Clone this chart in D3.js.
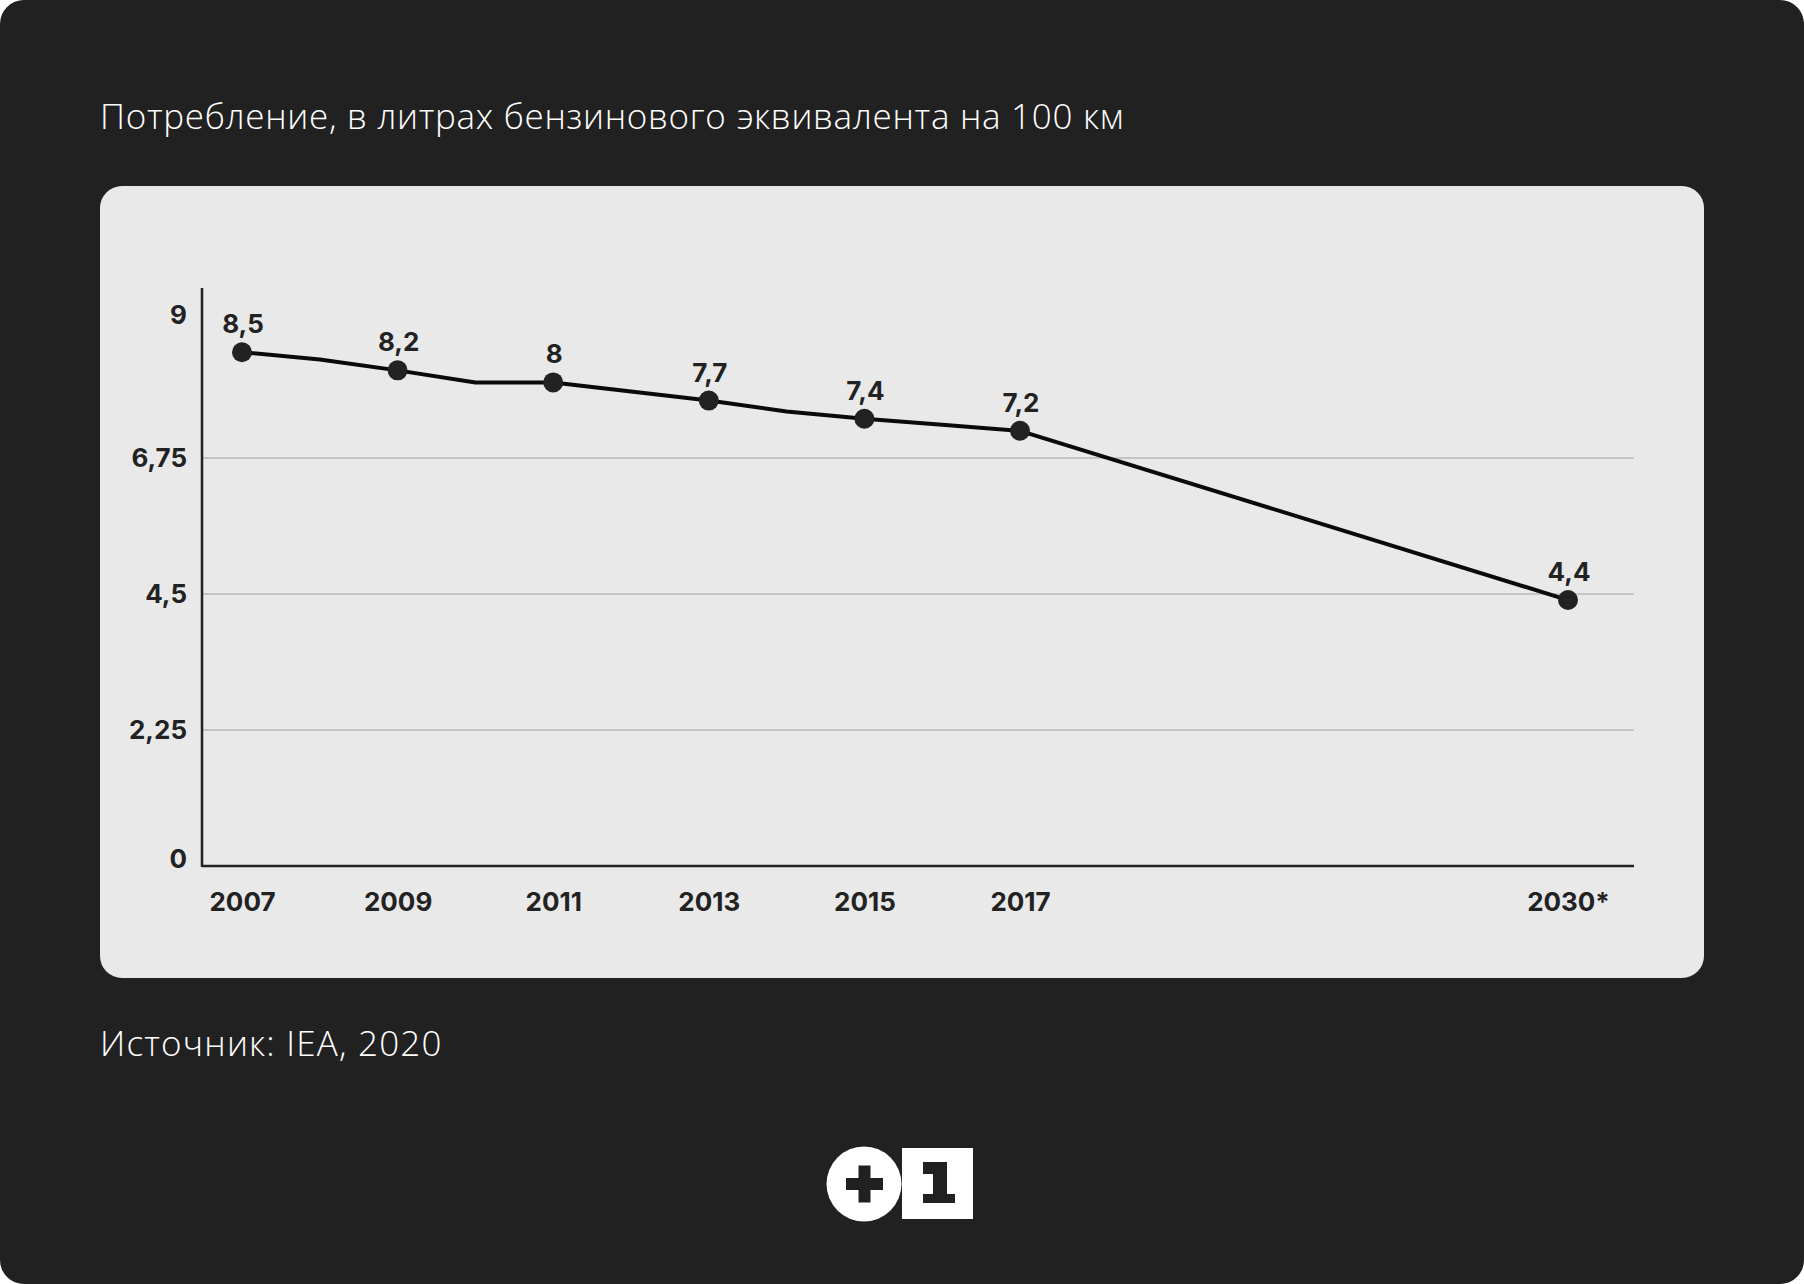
<!DOCTYPE html>
<html><head><meta charset="utf-8">
<script src="https://cdn.jsdelivr.net/npm/d3@7"></script>
<style>html,body{margin:0;padding:0;background:#fff;} svg{display:block}</style>
</head><body>
<svg id="c" width="1804" height="1284"></svg>
<script>
// ---- data ----
const titleText = "Потребление, в литрах бензинового эквивалента на 100 км";
const sourceText = "Источник: IEA, 2020";
const years = [2007, 2008, 2009, 2010, 2011, 2012, 2013, 2014, 2015, 2016, 2017, 2030];
const values = [8.5, 8.38, 8.2, 8.0, 8.0, 7.85, 7.7, 7.52, 7.4, 7.3, 7.2, 4.4];
const labeledYears = [2007, 2009, 2011, 2013, 2015, 2017, 2030];
const valueLabels = ["8,5", "8,2", "8", "7,7", "7,4", "7,2", "4,4"];
const xTickLabels = ["2007", "2009", "2011", "2013", "2015", "2017", "2030*"];
const yTicks = [0, 2.25, 4.5, 6.75, 9];
const yTickLabels = ["0", "2,25", "4,5", "6,75", "9"];
const gridTicks = [2.25, 4.5, 6.75];

// ---- layout ----
const W = 1804, H = 1284;
const boldFont = "Inter, 'Noto Sans', sans-serif";
const lightFont = "'Open Sans', Roboto, sans-serif";
const dark = "#222222";

const svg = d3.select("#c");
svg.append("rect").attr("width", W).attr("height", H).attr("rx", 24).attr("fill", "#212121");

svg.append("text").attr("x", 100).attr("y", 129)
  .attr("font-family", lightFont).attr("font-weight", 300).attr("font-size", 35)
  .attr("letter-spacing", 0.7)
  .attr("fill", "#ffffff").text(titleText);

svg.append("rect").attr("x", 100).attr("y", 186).attr("width", 1604).attr("height", 792)
  .attr("rx", 22).attr("fill", "#e9e9e9");

const x = d3.scaleLinear().domain([2007, 2017, 2030]).range([242, 1020, 1568]);
const y = d3.scaleLinear().domain([0, 9]).range([866, 322]);
const axisX0 = 202, axisX1 = 1634;

// gridlines
svg.append("g").selectAll("line").data(gridTicks).join("line")
  .attr("x1", axisX0).attr("x2", axisX1)
  .attr("y1", d => y(d)).attr("y2", d => y(d))
  .attr("stroke", "#c5c5c5").attr("stroke-width", 2);

// y axis
const yAxis = svg.append("g").attr("transform", `translate(${axisX0},0)`)
  .call(d3.axisLeft(y).tickValues(yTicks).tickFormat((d, i) => yTickLabels[i]).tickSize(0).tickPadding(15));
yAxis.select(".domain").remove();
yAxis.selectAll("text").attr("font-family", boldFont).attr("font-weight", 700)
  .attr("font-size", 26).attr("fill", dark)
  .attr("y", d => (d === 0 || d === 9) ? -7 : 0);
svg.append("line").attr("x1", axisX0).attr("x2", axisX0).attr("y1", 288).attr("y2", y(0) + 1)
  .attr("stroke", dark).attr("stroke-width", 2.5);

// x axis
const xAxis = svg.append("g").attr("transform", `translate(0,${y(0)})`)
  .call(d3.axisBottom(x).tickValues(labeledYears).tickFormat((d, i) => xTickLabels[i]).tickSize(0).tickPadding(27));
xAxis.select(".domain").remove();
xAxis.selectAll("text").attr("font-family", boldFont).attr("font-weight", 700)
  .attr("font-size", 26).attr("fill", dark);
svg.append("line").attr("x1", axisX0).attr("x2", axisX1).attr("y1", y(0)).attr("y2", y(0))
  .attr("stroke", dark).attr("stroke-width", 2.5);

// line
const pts = years.map((yr, i) => [yr, values[i]]);
svg.append("path").datum(pts)
  .attr("d", d3.line().x(d => x(d[0])).y(d => y(d[1])))
  .attr("fill", "none").attr("stroke", "#0a0a0a").attr("stroke-width", 4).attr("stroke-linejoin", "round");

const marked = labeledYears.map((yr, i) => ({ yr, v: values[years.indexOf(yr)], lab: valueLabels[i] }));
svg.append("g").selectAll("circle").data(marked).join("circle")
  .attr("cx", d => x(d.yr)).attr("cy", d => y(d.v)).attr("r", 10).attr("fill", dark);
svg.append("g").selectAll("text").data(marked).join("text")
  .attr("x", d => x(d.yr) + 1).attr("y", d => y(d.v) - 19)
  .attr("text-anchor", "middle").attr("font-family", boldFont).attr("font-weight", 700)
  .attr("font-size", 26).attr("fill", dark).text(d => d.lab);

// source
svg.append("text").attr("x", 100).attr("y", 1056)
  .attr("font-family", lightFont).attr("font-weight", 300).attr("font-size", 35)
  .attr("letter-spacing", 1.2)
  .attr("fill", "#ffffff").text(sourceText);

// logo
const logo = svg.append("g");
logo.append("circle").attr("cx", 864).attr("cy", 1184).attr("r", 37.5).attr("fill", "#ffffff");
logo.append("rect").attr("x", 846).attr("y", 1178).attr("width", 37).attr("height", 12).attr("fill", "#212121");
logo.append("rect").attr("x", 858.5).attr("y", 1165.5).attr("width", 12).attr("height", 37).attr("fill", "#212121");
logo.append("rect").attr("x", 902).attr("y", 1148).attr("width", 71).attr("height", 71).attr("fill", "#ffffff");
logo.append("path").attr("d", "M923,1162 L947,1162 L947,1194 L955,1194 L955,1203 L923,1203 L923,1194 L933,1194 L933,1174 L923,1174 Z")
  .attr("fill", "#212121");
</script>
</body></html>
